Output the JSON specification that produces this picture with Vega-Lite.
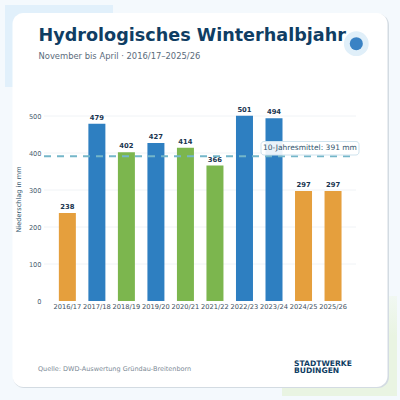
{
  "$schema": "https://vega.github.io/schema/vega-lite/v6.json",
  "width": 400,
  "height": 400,
  "padding": 0,
  "autosize": {"type": "fit", "contains": "padding"},
  "background": "#f4f9fd",
  "config": {
    "font": "DejaVu Sans",
    "view": {"stroke": null}
  },
  "title": {
    "text": "Hydrologisches Winterhalbjahr",
    "subtitle": "November bis April · 2016/17–2025/26",
    "anchor": "start",
    "frame": "group",
    "orient": "top",
    "offset": -60,
    "dx": 38.5,
    "fontSize": 17.6,
    "fontWeight": "bold",
    "color": "#0f3d63",
    "subtitleFontSize": 8.4,
    "subtitleColor": "#5a6b7b",
    "subtitlePadding": 7,
    "zindex": 1
  },
  "datasets": {
    "winter": [
      {"winter": "2016/17", "mm": 238, "klasse": "trocken"},
      {"winter": "2017/18", "mm": 479, "klasse": "nass"},
      {"winter": "2018/19", "mm": 402, "klasse": "normal"},
      {"winter": "2019/20", "mm": 427, "klasse": "nass"},
      {"winter": "2020/21", "mm": 414, "klasse": "normal"},
      {"winter": "2021/22", "mm": 366, "klasse": "normal"},
      {"winter": "2022/23", "mm": 501, "klasse": "nass"},
      {"winter": "2023/24", "mm": 494, "klasse": "nass"},
      {"winter": "2024/25", "mm": 297, "klasse": "trocken"},
      {"winter": "2025/26", "mm": 297, "klasse": "trocken"}
    ],
    "raster": [{"mm": 100}, {"mm": 200}, {"mm": 300}, {"mm": 400}, {"mm": 500}]
  },
  "data": {"name": "winter"},
  "layer": [
    {
      "data": {"values": [{}]},
      "mark": {"type": "rect", "x": 5, "x2": 113, "y": 5, "y2": 87, "fill": "#e1f0fb"}
    },
    {
      "data": {"values": [{}]},
      "mark": {
        "type": "rect",
        "x": 282,
        "x2": 397,
        "y": 296,
        "y2": 396,
        "fill": {
          "gradient": "linear",
          "x1": 0,
          "y1": 0,
          "x2": 0,
          "y2": 1,
          "stops": [
            {"offset": 0, "color": "#f1f8f2"},
            {"offset": 0.4, "color": "#e9f4e2"},
            {"offset": 1, "color": "#e9f4e2"}
          ]
        }
      }
    },
    {
      "data": {"values": [{}]},
      "mark": {"type": "rect", "x": 13, "x2": 389, "y": 14, "y2": 388, "fill": "#d3dbe2", "cornerRadius": 11}
    },
    {
      "data": {"values": [{}]},
      "mark": {"type": "rect", "x": 12.5, "x2": 387.5, "y": 13, "y2": 387, "fill": "#ffffff", "cornerRadius": 11}
    },
    {
      "data": {"values": [{}]},
      "mark": {"type": "point", "filled": true, "x": 356.3, "y": 43.7, "size": 616, "color": "#e0eff9", "opacity": 1}
    },
    {
      "data": {"values": [{}]},
      "mark": {"type": "point", "filled": true, "x": 356.3, "y": 43.7, "size": 172, "color": "#3a82c4", "opacity": 1}
    },
    {
      "data": {"name": "raster"},
      "mark": {"type": "rule", "x": 44, "x2": 356, "color": "#f0f3f6", "strokeWidth": 1},
      "encoding": {
        "y": {"field": "mm", "type": "quantitative"}
      }
    },
    {
      "mark": {"type": "bar", "width": 17},
      "encoding": {
        "x": {
          "field": "winter",
          "type": "nominal",
          "sort": null,
          "scale": {"range": [52.6, 347.8], "paddingInner": 0.43, "paddingOuter": 0.215},
          "axis": {
            "title": null,
            "offset": -99,
            "zindex": 1,
            "domain": false,
            "ticks": false,
            "labelAngle": 0,
            "labelFontSize": 6.7,
            "labelColor": "#3d4f5e",
            "labelPadding": 2.5,
            "labelOverlap": false
          }
        },
        "y": {
          "field": "mm",
          "type": "quantitative",
          "scale": {"domain": [0, 500], "range": [301, 116], "nice": false, "zero": true},
          "axis": {
            "title": "Niederschlag in mm",
            "values": [0, 100, 200, 300, 400, 500],
            "offset": -44,
            "zindex": 1,
            "domain": false,
            "ticks": false,
            "grid": false,
            "labelFontSize": 6.6,
            "labelColor": "#4a6070",
            "labelPadding": 3,
            "titleFontSize": 6.6,
            "titleFontWeight": "normal",
            "titleColor": "#33566e",
            "titleX": -22.3,
            "titleY": 199
          }
        },
        "color": {
          "field": "klasse",
          "type": "nominal",
          "legend": null,
          "scale": {"domain": ["nass", "normal", "trocken"], "range": ["#2e7fc1", "#7cb64e", "#e59f3d"]}
        }
      }
    },
    {
      "mark": {"type": "text", "baseline": "bottom", "dy": -3, "fontSize": 6.8, "fontWeight": "bold", "color": "#1a3550"},
      "encoding": {
        "x": {"field": "winter", "type": "nominal", "sort": null},
        "y": {"field": "mm", "type": "quantitative"},
        "text": {"field": "mm", "type": "quantitative"}
      }
    },
    {
      "data": {"values": [{"mittel": 391}]},
      "mark": {"type": "rule", "x": 44, "x2": 356, "color": "#74b6c9", "strokeWidth": 2, "strokeDash": [7, 6]},
      "encoding": {
        "y": {"field": "mittel", "type": "quantitative"}
      }
    },
    {
      "data": {"values": [{}]},
      "mark": {"type": "rect", "x": 261, "x2": 359, "y": 141.5, "y2": 155, "fill": "#ffffff", "fillOpacity": 0.9, "stroke": "#cfe3ee", "strokeWidth": 1, "cornerRadius": 3}
    },
    {
      "data": {"values": [{"text": "10-Jahresmittel: 391 mm"}]},
      "mark": {"type": "text", "x": 310, "y": 148, "align": "center", "baseline": "middle", "fontSize": 7.5, "color": "#33566e"},
      "encoding": {"text": {"field": "text"}}
    },
    {
      "data": {"values": [{"text": "Quelle: DWD-Auswertung Gründau-Breitenborn"}]},
      "mark": {"type": "text", "x": 38, "y": 369, "align": "left", "baseline": "middle", "fontSize": 6.5, "color": "#7c8a96"},
      "encoding": {"text": {"field": "text"}}
    },
    {
      "data": {"values": [{"text": "STADTWERKE"}]},
      "mark": {"type": "text", "x": 294, "y": 363.5, "align": "left", "baseline": "middle", "fontSize": 7.6, "fontWeight": "bold", "color": "#0f3d63"},
      "encoding": {"text": {"field": "text"}}
    },
    {
      "data": {"values": [{"text": "BUDINGEN"}]},
      "mark": {"type": "text", "x": 294, "y": 370.7, "align": "left", "baseline": "middle", "fontSize": 7.6, "fontWeight": "bold", "color": "#0f3d63"},
      "encoding": {"text": {"field": "text"}}
    }
  ]
}
